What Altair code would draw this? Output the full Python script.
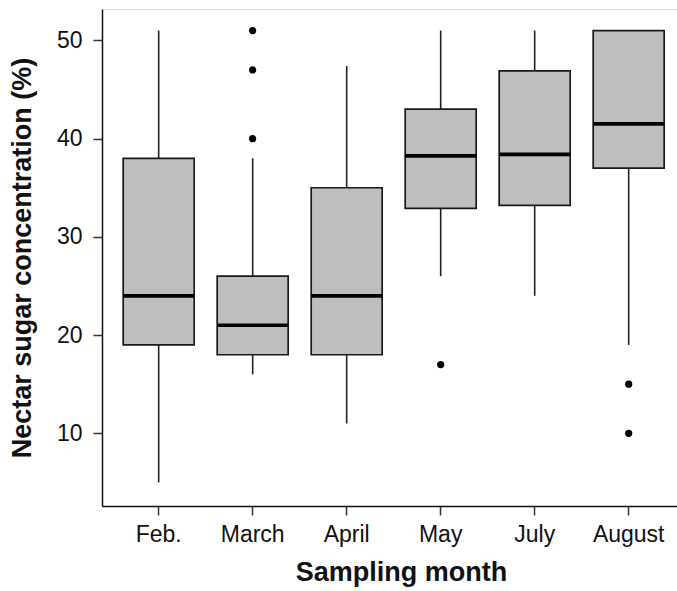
import altair as alt
import pandas as pd

months = ["Feb.", "March", "April", "May", "July", "August"]
lower = [5, 16, 11, 26, 24, 19]
q1 = [19, 18, 18, 32.9, 33.2, 37]
median = [24, 21, 24, 38.25, 38.4, 41.5]
q3 = [38, 26, 35, 43, 46.9, 51]
upper = [51, 38, 47.4, 51, 51, 51]

outlier_month = ["March", "March", "March", "May", "August", "August"]
outlier_value = [51, 47, 40, 17, 15, 10]

stats = pd.DataFrame({"month": months, "lower": lower, "q1": q1, "median": median,
                      "q3": q3, "upper": upper})
outs = pd.DataFrame({"month": outlier_month, "value": outlier_value})

FONT = "Liberation Sans"
BOXW = 71

xscale = alt.Scale(domain=months, paddingInner=0, paddingOuter=0.0585, align=0.88)
yscale = alt.Scale(domain=[2.6, 53.2], nice=False, zero=False)

xenc = alt.X("month:N", scale=xscale, sort=months,
             axis=alt.Axis(title="Sampling month", labelAngle=0, labelFont=FONT,
                           labelFontSize=23, labelColor="#111", labelBaseline="alphabetic",
                           labelPadding=26, tickSize=9, tickColor="#333", tickWidth=1.5,
                           domainColor="#111", domainWidth=1.5, titleFont=FONT,
                           titleFontSize=27, titleFontWeight="bold", titleColor="#111",
                           titleBaseline="alphabetic", titleX=299, titleY=74, grid=False))
yaxis = alt.Axis(title="Nectar sugar concentration (%)", values=[10, 20, 30, 40, 50],
                 labelFont=FONT, labelFontSize=23, labelColor="#111", labelPadding=11,
                 tickSize=9, tickColor="#333", tickWidth=1.5, domainColor="#111",
                 domainWidth=1.5, titleFont=FONT, titleFontSize=27, titleFontWeight="bold",
                 titleColor="#111", titleX=-66, titleY=248.5, grid=False)

base = alt.Chart(stats)

whisk_lo = base.mark_rule(color="#222", strokeWidth=1.6).encode(
    x=xenc, y=alt.Y("lower:Q", scale=yscale, axis=yaxis), y2="q1:Q")
whisk_hi = base.mark_rule(color="#222", strokeWidth=1.6).encode(
    x=xenc, y=alt.Y("q3:Q", scale=yscale, axis=yaxis), y2="upper:Q")
box = base.mark_bar(size=BOXW, fill="#BEBEBE", stroke="#1a1a1a", strokeWidth=1.7).encode(
    x=xenc, y=alt.Y("q1:Q", scale=yscale, axis=yaxis), y2="q3:Q")
med = base.mark_tick(size=BOXW, thickness=3.7, color="#000", opacity=1).encode(
    x=xenc, y=alt.Y("median:Q", scale=yscale, axis=yaxis))
pts = alt.Chart(outs).mark_circle(size=52, color="#000", opacity=1).encode(
    x=alt.X("month:N", scale=xscale, sort=months),
    y=alt.Y("value:Q", scale=yscale))

chart = alt.layer(whisk_lo, whisk_hi, box, med, pts).properties(
    width=575, height=497,
    autosize=alt.AutoSizeParams(type="none"),
    padding={"left": 102, "top": 9, "right": 0, "bottom": 85},
).configure_view(stroke=None).configure(background="white")

chart.save("out.html", embed_options={"renderer": "svg", "actions": False})
